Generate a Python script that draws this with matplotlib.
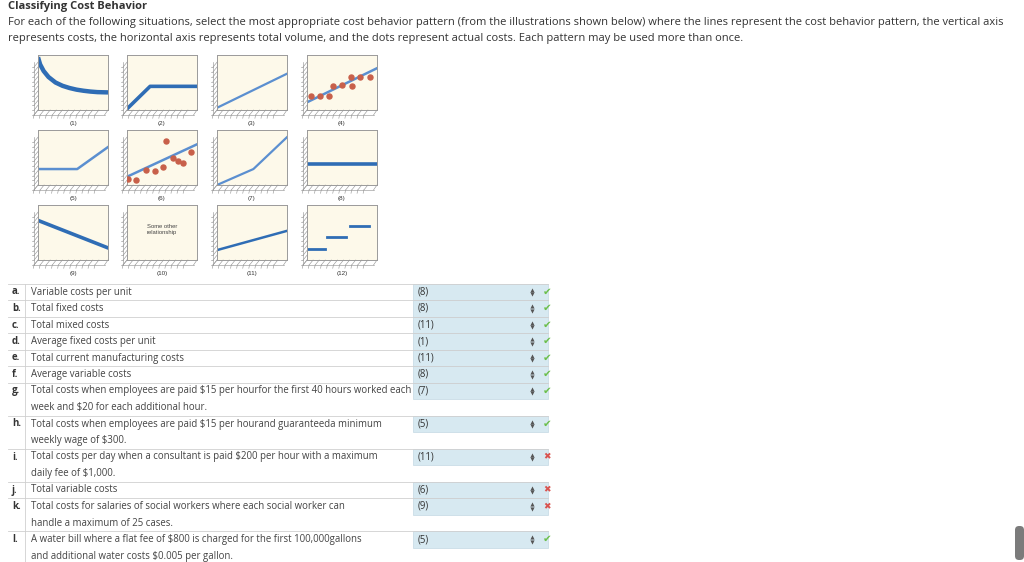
import matplotlib.pyplot as plt
from matplotlib.patches import Rectangle, FancyBboxPatch

W, H = 1024, 562

title = "Classifying Cost Behavior"
intro = [
    "For each of the following situations, select the most appropriate cost behavior pattern (from the illustrations shown below) where the lines represent the cost behavior pattern, the vertical axis",
    "represents costs, the horizontal axis represents total volume, and the dots represent actual costs. Each pattern may be used more than once.",
]

# pattern illustrations (0-10 scale on both axes)
p1_x = [0, 0.3, 0.8, 1.5, 2.5, 3.5, 4.5, 5.5, 6.5, 7.5, 8.5, 10]
p1_y = [9.6, 8.3, 7.1, 6.0, 5.0, 4.4, 4.0, 3.7, 3.5, 3.35, 3.25, 3.2]
p2_x = [0, 3.3, 10]
p2_y = [0.2, 4.3, 4.3]
p3_x = [0, 10]
p3_y = [0.4, 6.6]
p4_x = [0, 10]
p4_y = [1.4, 7.6]
p4_dots_x = [0.5, 1.9, 3.2, 3.7, 5.0, 6.3, 6.4, 7.6, 9.0]
p4_dots_y = [2.6, 2.6, 2.6, 4.4, 4.5, 6.0, 4.4, 6.0, 6.0]
p5_x = [0, 5.6, 10]
p5_y = [2.9, 2.9, 6.9]
p6_x = [0, 10]
p6_y = [1.5, 7.4]
p6_dots_x = [0.1, 1.3, 2.7, 4.0, 5.2, 5.5, 6.6, 7.3, 8.0, 9.1]
p6_dots_y = [1.1, 0.9, 2.7, 2.6, 3.3, 8.0, 4.9, 4.3, 4.0, 6.0]
p7_x = [0, 5.2, 10]
p7_y = [0.0, 2.9, 8.7]
p8_x = [0, 10]
p8_y = [3.8, 3.8]
p9_x = [0, 10]
p9_y = [7.2, 2.2]
p11_x = [0, 10]
p11_y = [1.8, 5.3]
p12_steps = [(0, 2.6, 2.0), (2.9, 5.6, 4.1), (6.1, 8.8, 6.1)]

# table
letters = ["a.", "b.", "c.", "d.", "e.", "f.", "g.", "h.", "i.", "j.", "k.", "l."]
items = [
    ["Variable costs per unit"],
    ["Total fixed costs"],
    ["Total mixed costs"],
    ["Average fixed costs per unit"],
    ["Total current manufacturing costs"],
    ["Average variable costs"],
    ["Total costs when employees are paid $15 per hourfor the first 40 hours worked each",
     "week and $20 for each additional hour."],
    ["Total costs when employees are paid $15 per hourand guaranteeda minimum",
     "weekly wage of $300."],
    ["Total costs per day when a consultant is paid $200 per hour with a maximum",
     "daily fee of $1,000."],
    ["Total variable costs"],
    ["Total costs for salaries of social workers where each social worker can",
     "handle a maximum of 25 cases."],
    ["A water bill where a flat fee of $800 is charged for the first 100,000gallons",
     "and additional water costs $0.005 per gallon."],
]
answers = ["(8)", "(8)", "(11)", "(1)", "(11)", "(8)", "(7)", "(5)", "(11)", "(6)", "(9)", "(5)"]
correct = [True, True, True, True, True, True, True, True, False, False, False, True]

BLUE = "#2f6db5"
LINE = "#5b8fd0"
DOT = "#c8604a"
CREAM = "#fdf9ea"
TXT = "#333333"

fig = plt.figure(figsize=(W / 100, H / 100), dpi=100)
bg = fig.add_axes([0, 0, 1, 1])
bg.set_xlim(0, W)
bg.set_ylim(H, 0)
bg.axis("off")

font = ["Open Sans", "DejaVu Sans"]
bg.text(8, 7, title, fontsize=8, fontweight="bold", color=TXT, family=font, va="center")
bg.text(8, 23, intro[0], fontsize=8.05, color=TXT, family=font, va="center")
bg.text(8, 39, intro[1], fontsize=8.05, color=TXT, family=font, va="center")


def panel(col, row, label):
    x0 = [38, 127, 217, 307][col]
    y0 = [55, 130, 205][row]
    w, h = 70, 55
    ax = fig.add_axes([x0 / W, 1 - (y0 + h) / H, w / W, h / H])
    ax.set_xlim(0, 10)
    ax.set_ylim(0, 10)
    ax.set_facecolor(CREAM)
    ax.set_xticks([])
    ax.set_yticks([])
    for s in ax.spines.values():
        s.set_color("#9a9a9a")
        s.set_linewidth(0.7)
    # pseudo 3D wall and floor
    dx, dy = -4 / w, -5 / h
    kw = dict(color="#9a9a9a", lw=0.45, transform=ax.transAxes, clip_on=False)
    ax.plot([dx, dx], [dy, 0.88], **kw)
    ax.plot([dx, 0.95], [dy, dy], **kw)
    ax.plot([0.95, 1.0], [dy, 0], **kw)
    for i in range(11):
        t = i / 11.5
        ax.plot([dx, 0], [t + dy, t], **kw)
        ax.plot([dx, dx - 0.03], [t + dy, t + dy], **kw)
        ax.plot([t + dx, t], [dy, 0], **kw)
        ax.plot([t + dx, t + dx - 0.01], [dy, dy - 0.06], **kw)
    ax.text(0.5, -0.25, label, transform=ax.transAxes, ha="center", va="center",
            fontsize=4.5, color="#333333", family="Liberation Sans")
    return ax


ax = panel(0, 0, "(1)")
ax.plot(p1_x, p1_y, color=BLUE, lw=3.2, solid_capstyle="butt")
ax = panel(1, 0, "(2)")
ax.plot(p2_x, p2_y, color=BLUE, lw=2.6)
ax = panel(2, 0, "(3)")
ax.plot(p3_x, p3_y, color=LINE, lw=1.6)
ax = panel(3, 0, "(4)")
ax.plot(p4_x, p4_y, color=LINE, lw=1.8)
ax.scatter(p4_dots_x, p4_dots_y, s=13, color=DOT, zorder=3)
ax = panel(0, 1, "(5)")
ax.plot(p5_x, p5_y, color=LINE, lw=1.8)
ax = panel(1, 1, "(6)")
ax.plot(p6_x, p6_y, color=LINE, lw=1.8)
ax.scatter(p6_dots_x, p6_dots_y, s=13, color=DOT, zorder=3)
ax = panel(2, 1, "(7)")
ax.plot(p7_x, p7_y, color=LINE, lw=1.6)
ax = panel(3, 1, "(8)")
ax.plot(p8_x, p8_y, color=BLUE, lw=2.6)
ax = panel(0, 2, "(9)")
ax.plot(p9_x, p9_y, color=BLUE, lw=2.6)
ax = panel(1, 2, "(10)")
ax.text(0.5, 0.56, "Some other\nrelationship", transform=ax.transAxes, ha="center",
        va="center", fontsize=4.2, color="#444444", family="Liberation Sans", linespacing=1.3)
ax = panel(2, 2, "(11)")
ax.plot(p11_x, p11_y, color=BLUE, lw=1.8)
ax = panel(3, 2, "(12)")
for a, b, yv in p12_steps:
    ax.plot([a, b], [yv, yv], color=BLUE, lw=2.0)

# table
step = 16.5
y = 292
left, div, cell_l, right = 8, 25, 413, 548
gray = "#d0d0d0"
bg.plot([left, right], [y - step / 2, y - step / 2], color=gray, lw=0.6)
for letter, lines, ans, ok in zip(letters, items, answers, correct):
    top = y - step / 2
    bg.add_patch(Rectangle((cell_l, top), right - cell_l, step, facecolor="#d7e9f1",
                           edgecolor="#c4d9e3", lw=0.5))
    bg.text(12, y, letter, fontsize=6.9, fontweight="bold", color=TXT, family=font, va="center")
    for k, ln in enumerate(lines):
        bg.text(31, y + k * step, ln, fontsize=6.9, color="#444444", family=font, va="center")
    bg.text(418, y, ans, fontsize=6.9, color=TXT, family=font, va="center")
    bg.scatter([532], [y - 2.2], marker="^", s=9, color="#555555", lw=0)
    bg.scatter([532], [y + 2.2], marker="v", s=9, color="#555555", lw=0)
    if ok:
        bg.text(547, y, "\u2714", fontsize=7.5, color="#6cbf4c", family=font, ha="center", va="center")
    else:
        bg.text(547, y, "\u2716", fontsize=6.5, color="#d9534f", family=font, ha="center", va="center")
    bottom = top + step * len(lines)
    bg.plot([left, right], [bottom, bottom], color=gray, lw=0.6)
    bg.plot([div, div], [top, bottom], color=gray, lw=0.6)
    y += step * len(lines)

# scrollbar thumb
bg.add_patch(FancyBboxPatch((1015, 526), 9, 34, boxstyle="round,pad=0,rounding_size=4",
                            facecolor="#7b7b7b", edgecolor="none"))

fig.savefig("out.png", dpi=100)
